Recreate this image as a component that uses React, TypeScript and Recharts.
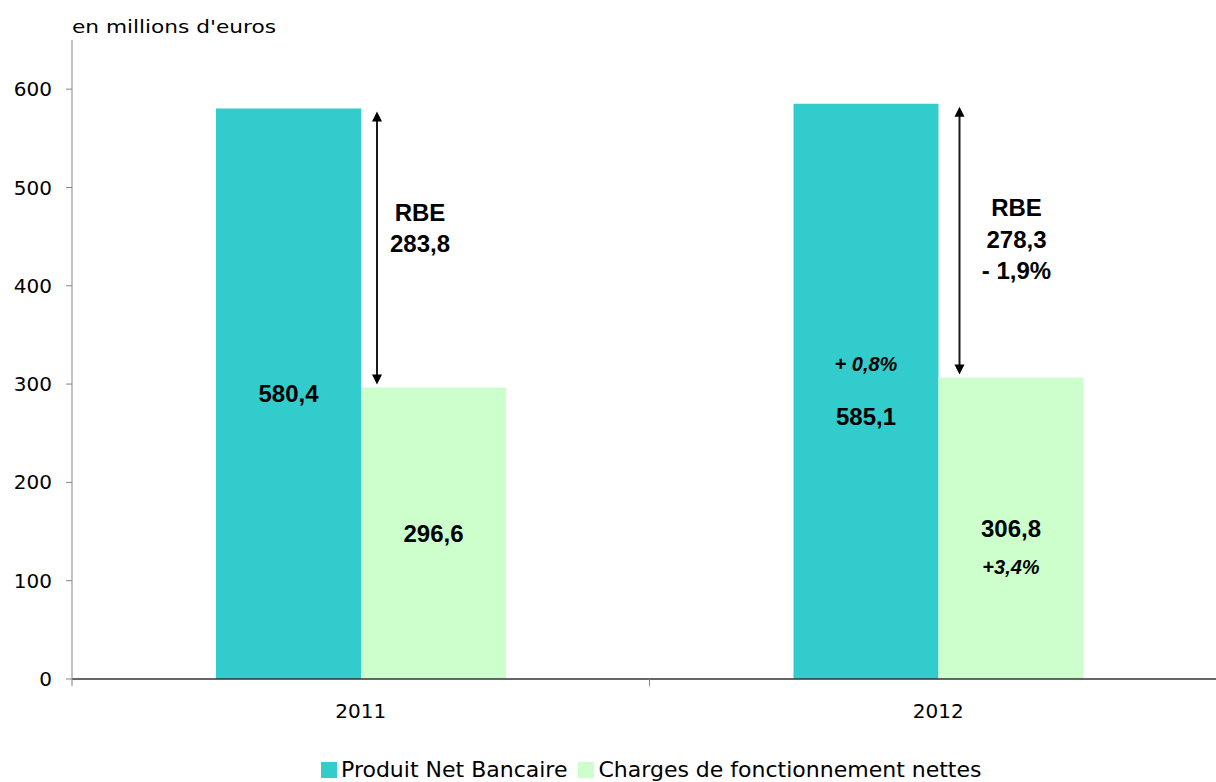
import { Bar, BarChart, LabelList, XAxis, YAxis } from "recharts";

const years = ["2011", "2012"];
const pnb = [580.4, 585.1];
const charges = [296.6, 306.8];
const rbe = [283.8, 278.3];
const pnbChange = ["", "+ 0,8%"];
const chargesChange = ["", "+3,4%"];
const rbeChange = ["", "- 1,9%"];
const yTicks = [0, 100, 200, 300, 400, 500, 600];

const TEAL = "#33CCCC";
const GREEN = "#CCFFCC";
const AXIS_GREY = "#868686";
const W = 1290;
const H = 782;
const MARGIN = { top: 40, right: 63, bottom: 63, left: 0 };
const Y_AXIS_W = 72;
const HALF_BAND = (W - MARGIN.right - Y_AXIS_W) / years.length / 2;
// arrow offset from the green bar's left edge, and RBE text offset from the arrow, per year
const ARROW_DX = [16, 21];
const RBE_DX = [43, 57];

const REG = "'DejaVu Sans', sans-serif";
const BOLD = "'Liberation Sans', Arial, sans-serif";

const fmt = (v: number) => v.toFixed(1).replace(".", ",");

const data = years.map((year, i) => ({ year, pnb: pnb[i], charges: charges[i] }));

function box(props: any) {
  const vb = props.viewBox ?? props;
  return { x: Number(vb.x), y: Number(vb.y), width: Number(vb.width), height: Number(vb.height) };
}

function TitleLabel(props: any) {
  const vb = props.viewBox ?? { x: 0, y: 40, width: Y_AXIS_W };
  return (
    <text
      x={vb.x + vb.width}
      y={vb.y - 7}
      fontFamily={REG}
      fontSize={18}
      fill="#000"
      textLength={204}
      lengthAdjust="spacingAndGlyphs"
    >
      en millions d'euros
    </text>
  );
}

function YearTick(props: any) {
  const { x, y, payload } = props;
  return (
    <g>
      <line x1={x - HALF_BAND} x2={x - HALF_BAND} y1={y} y2={y + 7} stroke={AXIS_GREY} />
      <line x1={x + HALF_BAND} x2={x + HALF_BAND} y1={y} y2={y + 7} stroke={AXIS_GREY} />
      <text x={x} y={y + 39} textAnchor="middle" fontFamily={REG} fontSize={20} fill="#000">
        {payload.value}
      </text>
    </g>
  );
}

function PnbLabel(props: any) {
  const { x, y, width, height } = box(props);
  const i = props.index;
  const cx = x + width / 2;
  const cy = y + height / 2;
  const change = pnbChange[i];
  return (
    <g>
      {change && (
        <text x={cx} y={cy - 27} textAnchor="middle" dominantBaseline="central"
          fontFamily={BOLD} fontWeight="bold" fontStyle="italic" fontSize={20} fill="#000">
          {change}
        </text>
      )}
      <text x={cx} y={change ? cy + 25 : cy} textAnchor="middle" dominantBaseline="central"
        fontFamily={BOLD} fontWeight="bold" fontSize={24} fill="#000">
        {fmt(pnb[i])}
      </text>
    </g>
  );
}

function ChargesLabel(props: any) {
  const { x, y, width, height } = box(props);
  const i = props.index;
  const cx = x + width / 2;
  const cy = y + height / 2;
  const bottom = y + height;
  const scale = height / charges[i];
  const tealTop = bottom - pnb[i] * scale;

  const ax = x + ARROW_DX[i];
  const tipTop = tealTop + 3;
  const tipBot = y - 3;
  const rx = ax + RBE_DX[i];
  const ry = tealTop + 104;
  const rbeLines = ["RBE", fmt(rbe[i]), rbeChange[i]].filter(Boolean);

  return (
    <g>
      <line x1={ax} x2={ax} y1={tipTop + 8} y2={tipBot - 8} stroke="#1a1a1a" strokeWidth={2} />
      <polygon points={`${ax},${tipTop} ${ax - 5},${tipTop + 10} ${ax + 5},${tipTop + 10}`} fill="#000" />
      <polygon points={`${ax},${tipBot} ${ax - 5},${tipBot - 10} ${ax + 5},${tipBot - 10}`} fill="#000" />
      {rbeLines.map((t, k) => (
        <text key={k} x={rx} y={ry + k * 31.5} textAnchor="middle" dominantBaseline="central"
          fontFamily={BOLD} fontWeight="bold" fontSize={24} fill="#000">
          {t}
        </text>
      ))}
      <text x={cx} y={cy} textAnchor="middle" dominantBaseline="central"
        fontFamily={BOLD} fontWeight="bold" fontSize={24} fill="#000">
        {fmt(charges[i])}
      </text>
      {chargesChange[i] && (
        <text x={cx} y={cy + 39} textAnchor="middle" dominantBaseline="central"
          fontFamily={BOLD} fontWeight="bold" fontStyle="italic" fontSize={20} fill="#000">
          {chargesChange[i]}
        </text>
      )}
    </g>
  );
}

const legendItems = [
  { name: "Produit Net Bancaire", color: TEAL },
  { name: "Charges de fonctionnement nettes", color: GREEN },
];

export default function App() {
  return (
    <div style={{ position: "absolute", left: 0, top: 0, width: 1216, height: H, overflow: "hidden", background: "#fff" }}>
      <BarChart width={W} height={H} data={data} margin={MARGIN} barSize={145} barGap={0}>
        <XAxis
          dataKey="year"
          height={40}
          tickSize={0}
          tickMargin={0}
          axisLine={{ stroke: "#333", strokeWidth: 1.5 }}
          tick={<YearTick />}
          interval={0}
        />
        <YAxis
          width={Y_AXIS_W}
          domain={[0, 650]}
          ticks={yTicks}
          tickSize={6}
          tickMargin={14}
          axisLine={{ stroke: AXIS_GREY }}
          tickLine={{ stroke: AXIS_GREY }}
          tick={{ fontFamily: REG, fontSize: 20, fill: "#000" }}
          label={<TitleLabel />}
        />
        <Bar dataKey="pnb" fill={TEAL} isAnimationActive={false}>
          <LabelList dataKey="pnb" content={PnbLabel} />
        </Bar>
        <Bar dataKey="charges" fill={GREEN} isAnimationActive={false}>
          <LabelList dataKey="charges" content={ChargesLabel} />
        </Bar>
      </BarChart>
      <div style={{ position: "absolute", left: 321, top: 759, display: "flex", alignItems: "center", fontFamily: REG, fontSize: 22, lineHeight: "22px", color: "#000", whiteSpace: "nowrap" }}>
        {legendItems.map((it, k) => (
          <div key={it.name} style={{ display: "flex", alignItems: "center", marginLeft: k ? 11 : 0 }}>
            <span style={{ width: 16, height: 16, background: it.color, marginRight: 4, display: "inline-block" }} />
            <span>{it.name}</span>
          </div>
        ))}
      </div>
    </div>
  );
}
